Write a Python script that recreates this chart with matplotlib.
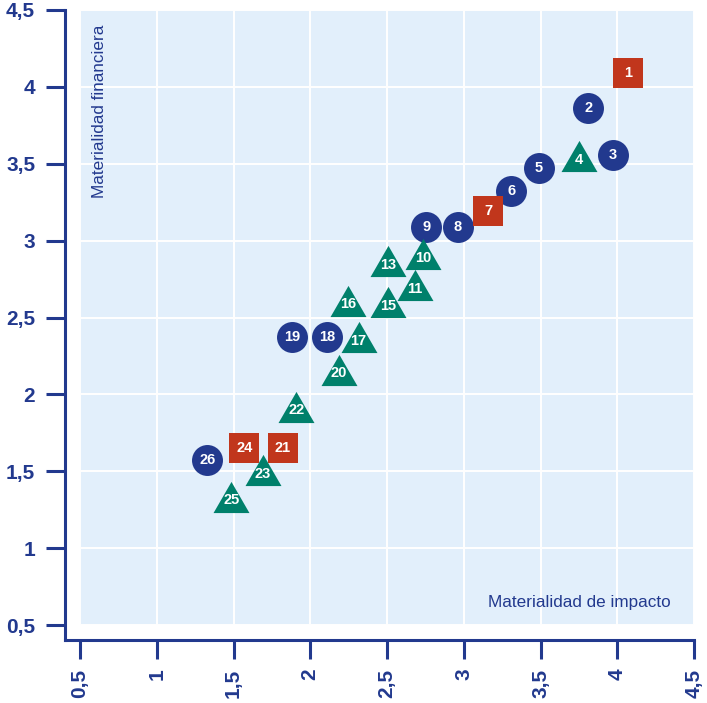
import matplotlib
matplotlib.use("Agg")
import matplotlib.pyplot as plt
from matplotlib.path import Path

# ---- data ----
circle_ids = ["2", "3", "5", "6", "8", "9", "18", "19", "26"]
circle_x = [3.81, 3.97, 3.49, 3.31, 2.96, 2.755, 2.11, 1.88, 1.33]
circle_y = [3.86, 3.56, 3.47, 3.32, 3.09, 3.09, 2.37, 2.37, 1.57]

square_ids = ["1", "7", "21", "24"]
square_x = [4.07, 3.16, 1.82, 1.57]
square_y = [4.09, 3.19, 1.65, 1.65]

tri_ids = ["4", "10", "11", "13", "15", "16", "17", "20", "22", "23", "25"]
tri_x = [3.75, 2.735, 2.68, 2.505, 2.505, 2.245, 2.315, 2.185, 1.91, 1.69, 1.485]
tri_y = [3.55, 2.91, 2.71, 2.865, 2.60, 2.61, 2.37, 2.16, 1.92, 1.505, 1.335]

ticks = [0.5, 1, 1.5, 2, 2.5, 3, 3.5, 4, 4.5]
tick_labels = ["0,5", "1", "1,5", "2", "2,5", "3", "3,5", "4", "4,5"]

x_title = "Materialidad de impacto"
y_title = "Materialidad financiera"

# ---- style ----
NAVY = "#22398e"
RED = "#c1361c"
GREEN = "#00806b"
BG = "#e2effb"

plt.rcParams['font.family'] = ['Liberation Sans', 'DejaVu Sans']

W, H = 707, 703
fig = plt.figure(figsize=(W / 100, H / 100), dpi=100)
ax = fig.add_axes([80 / W, (H - 625) / H, (694 - 80) / W, (625 - 10) / H])
ax.set_facecolor(BG)

for s in ['top', 'right']:
    ax.spines[s].set_visible(False)
off_px = 15
ax.spines['left'].set_position(('outward', off_px * 0.72))
ax.spines['bottom'].set_position(('outward', off_px * 0.72))

ax.set_xlim(0.5, 4.5)
ax.set_ylim(0.5, 4.5)
ax.spines['left'].set_bounds(0.5 - off_px / 153.75, 4.5)
ax.spines['bottom'].set_bounds(0.5 - off_px / 153.5, 4.5)
for s in ['left', 'bottom']:
    ax.spines[s].set_color(NAVY)
    ax.spines[s].set_linewidth(2.2)

ax.set_xticks(ticks)
ax.set_yticks(ticks)
ax.set_xticklabels(tick_labels, rotation=90, fontsize=15, fontweight='bold', color=NAVY)
ax.set_yticklabels(tick_labels, fontsize=15, fontweight='bold', color=NAVY)
ax.tick_params(axis='both', direction='out', length=13.5, width=2.2, color=NAVY)
ax.tick_params(axis='y', pad=8)
ax.tick_params(axis='x', pad=7)
ax.grid(True, color='white', linewidth=1.4)
ax.set_axisbelow(True)

# equilateral triangle marker
tri = Path([(-1, -0.866), (1, -0.866), (0, 0.866), (-1, -0.866)],
           [Path.MOVETO, Path.LINETO, Path.LINETO, Path.CLOSEPOLY])

ax.plot(circle_x, circle_y, 'o', ms=22.3, color=NAVY, mew=0, linestyle='none', zorder=3)
ax.plot(square_x, square_y, 's', ms=20.9, color=RED, mew=0, linestyle='none', zorder=3)
ax.plot(tri_x, tri_y, marker=tri, ms=25.9, color=GREEN, mew=0, linestyle='none', zorder=3)

lab_kw = dict(ha='center', va='center', color='white', fontsize=10.5, fontweight='bold', zorder=4)
for i, x, y in zip(circle_ids, circle_x, circle_y):
    ax.annotate(i, (x, y), xytext=(0, 0), textcoords='offset points', **lab_kw)
for i, x, y in zip(square_ids, square_x, square_y):
    ax.annotate(i, (x, y), xytext=(0, 0), textcoords='offset points', **lab_kw)
for i, x, y in zip(tri_ids, tri_x, tri_y):
    ax.annotate(i, (x, y), xytext=(0, -2.6), textcoords='offset points', **lab_kw)

ax.text((100 - 80) / 614, 1 - (25 - 10) / 615, y_title, rotation=90, ha='center', va='top',
        transform=ax.transAxes, fontsize=12.3, color=NAVY)
ax.text((671 - 80) / 614, (625 - 607) / 615, x_title, ha='right', va='baseline',
        transform=ax.transAxes, fontsize=12.3, color=NAVY)

fig.savefig("out.png", dpi=100)
